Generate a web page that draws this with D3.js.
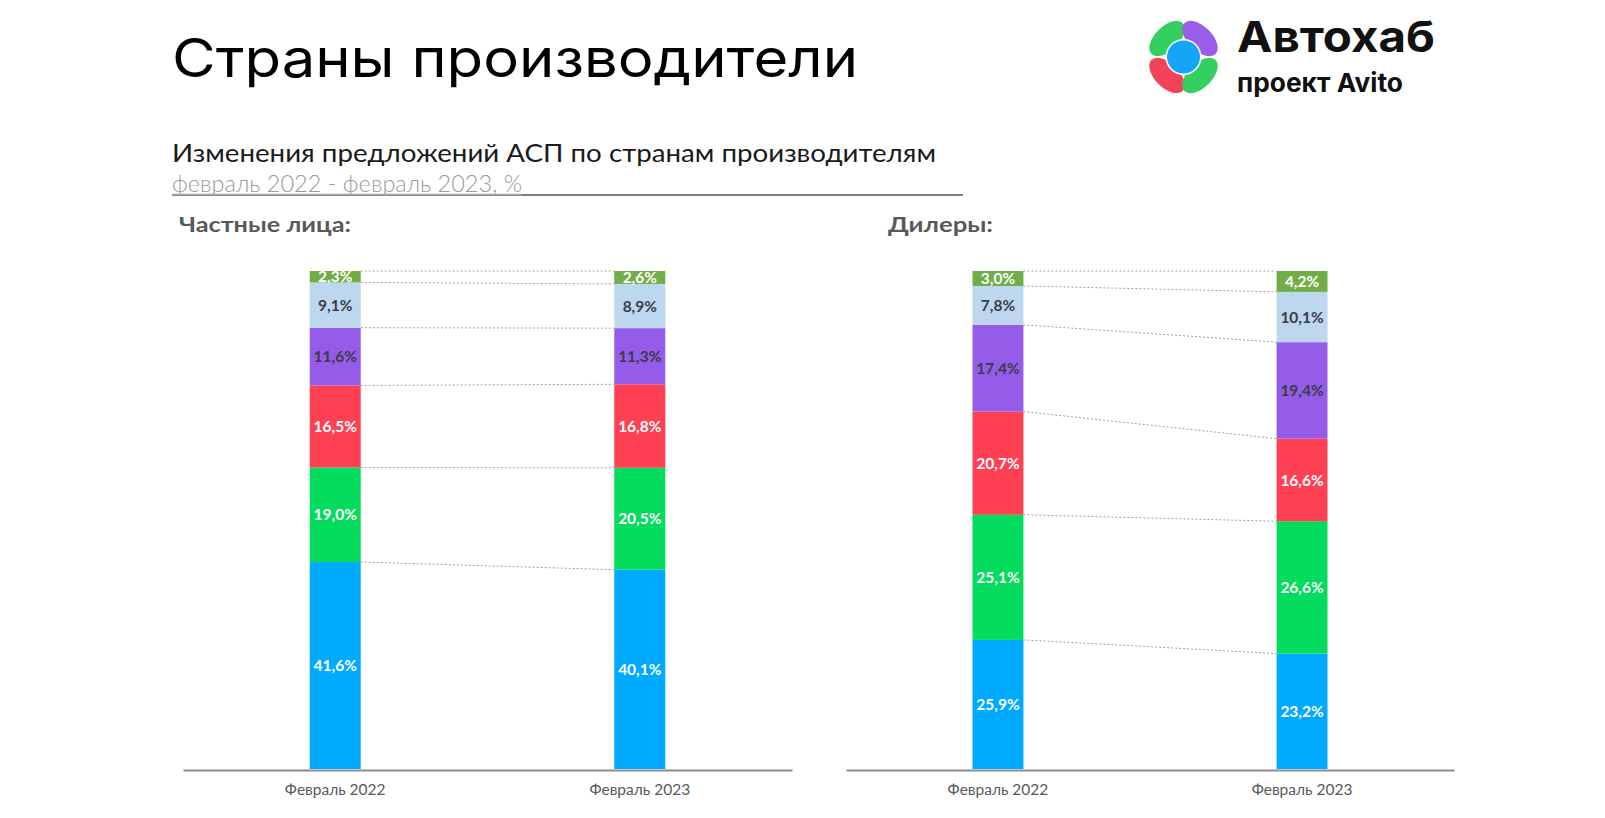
<!DOCTYPE html>
<html><head><meta charset="utf-8">
<script src="https://cdn.jsdelivr.net/npm/d3@7"></script>
<style>
html,body{margin:0;padding:0;background:#fff;}
svg{display:block;}
</style></head>
<body>
<svg id="c" width="1605" height="818"></svg>
<script>
// ---- data ----
const categories = ["Февраль 2022", "Февраль 2023"];
const seriesKeys = ["s1", "s2", "s3", "s4", "s5", "s6"]; // bottom -> top
const privateBlue   = [41.6, 40.1];
const privateGreen  = [19.0, 20.5];
const privateRed    = [16.5, 16.8];
const privatePurple = [11.6, 11.3];
const privateLight  = [9.1, 8.9];
const privateOlive  = [2.3, 2.6];
const dealerBlue   = [25.9, 23.2];
const dealerGreen  = [25.1, 26.6];
const dealerRed    = [20.7, 16.6];
const dealerPurple = [17.4, 19.4];
const dealerLight  = [7.8, 10.1];
const dealerOlive  = [3.0, 4.2];
const panelTitles = ["Частные лица:", "Дилеры:"];

const colors = ["#00AAFF", "#04DC5E", "#FF4053", "#955CEA", "#BDD7EE", "#70AD47"];
const labelColors = ["#fff", "#fff", "#fff", "#3b3b48", "#3b3b48", "#fff"];

function table(arrs){
  return categories.map((c,i)=>{
    const o = {cat:c};
    seriesKeys.forEach((k,j)=>o[k]=arrs[j][i]);
    return o;
  });
}
const privateData = table([privateBlue, privateGreen, privateRed, privatePurple, privateLight, privateOlive]);
const dealerData  = table([dealerBlue, dealerGreen, dealerRed, dealerPurple, dealerLight, dealerOlive]);

const svg = d3.select("#c");
svg.append("rect").attr("width",1605).attr("height",818).attr("fill","#fff");

function fitText(sel, w){ sel.attr("textLength", w).attr("lengthAdjust","spacingAndGlyphs"); return sel; }

// ---- headline ----
fitText(svg.append("text").attr("x",172).attr("y",76.5)
  .attr("font-family","Inter, 'Noto Sans', sans-serif").attr("font-size",53).attr("font-weight",400)
  .attr("fill","#000").text("Страны производители"), 686);

// ---- logo ----
const logo = svg.append("g");
[[1167,38.5,-45,"#34CF5F"],[1200,38.5,45,"#9B5DE8"],[1167,75.5,45,"#F2435A"],[1200,75.5,-45,"#34CF5F"]]
 .forEach(p=>{
   logo.append("ellipse").attr("cx",p[0]).attr("cy",p[1]).attr("rx",22).attr("ry",12)
     .attr("transform",`rotate(${p[2]},${p[0]},${p[1]})`).attr("fill",p[3]);
 });
logo.append("circle").attr("cx",1183.5).attr("cy",57).attr("r",18).attr("fill","#fff");
logo.append("circle").attr("cx",1183.5).attr("cy",57).attr("r",16.5).attr("fill","#14A5F6");
fitText(logo.append("text").attr("x",1237).attr("y",52)
  .attr("font-family","Inter, sans-serif").attr("font-size",43).attr("font-weight",700)
  .attr("fill","#111").text("Автохаб"), 198);
fitText(logo.append("text").attr("x",1237).attr("y",92)
  .attr("font-family","Inter, sans-serif").attr("font-size",26).attr("font-weight",700)
  .attr("fill","#111").text("проект Avito"), 166);

// ---- chart title ----
fitText(svg.append("text").attr("x",172).attr("y",162)
  .attr("font-family","Lato, sans-serif").attr("font-size",25).attr("font-weight",400)
  .attr("fill","#1a1a1a").text("Изменения предложений АСП по странам производителям"), 764);
svg.append("line").attr("x1",172).attr("x2",963).attr("y1",195).attr("y2",195)
  .attr("stroke","#555").attr("stroke-width",1.6);
fitText(svg.append("text").attr("x",172).attr("y",192)
  .attr("font-family","Lato, sans-serif").attr("font-size",23).attr("font-weight",300)
  .attr("fill","#9a9a9a").text("февраль 2022 - февраль 2023, %"), 350);
svg.append("line").attr("x1",172).attr("x2",522).attr("y1",194.5).attr("y2",194.5)
  .attr("stroke","#a6a6a6").attr("stroke-width",1.4);

// ---- panels ----
const y = d3.scaleLinear().domain([0,1]).range([769,271]);
const stack = d3.stack().keys(seriesKeys).offset(d3.stackOffsetExpand);

function panel(data, x0, x1, title, titleX, titleW){
  const g = svg.append("g");
  fitText(g.append("text").attr("x",titleX).attr("y",232)
    .attr("font-family","Lato, sans-serif").attr("font-size",21).attr("font-weight",700)
    .attr("fill","#595959").text(title), titleW);

  const x = d3.scaleBand().domain(categories).range([x0,x1]).paddingInner(0.8325).paddingOuter(0.416);
  const bw = x.bandwidth();
  const layers = stack(data);

  // connectors
  layers.forEach(L=>{
    g.append("line")
      .attr("x1", x(categories[0])+bw).attr("y1", y(L[0][1]))
      .attr("x2", x(categories[1])).attr("y2", y(L[1][1]))
      .attr("stroke","#a0a0a0").attr("stroke-width",1).attr("stroke-dasharray","2,2");
  });

  layers.forEach((L,i)=>{
    g.selectAll(null).data(L).enter().append("rect")
      .attr("x", d=>x(d.data.cat)).attr("width", bw)
      .attr("y", d=>y(d[1])).attr("height", d=>y(d[0])-y(d[1]))
      .attr("fill", colors[i]);
    g.selectAll(null).data(L).enter().append("text")
      .attr("x", d=>x(d.data.cat)+bw/2)
      .attr("y", d=>(y(d[0])+y(d[1]))/2)
      .attr("dy","0.36em").attr("text-anchor","middle")
      .attr("font-family","Lato, sans-serif").attr("font-size",15.5).attr("font-weight",700)
      .attr("fill", labelColors[i])
      .text(d=>d3.format(".1f")(d.data[L.key]).replace(".",",")+"%");
  });

  const axis = d3.axisBottom(x).tickSize(0).tickPadding(14);
  const ag = g.append("g").attr("transform","translate(0,770)").call(axis);
  ag.select(".domain").attr("stroke","#8c8c8c").attr("stroke-width",2);
  ag.selectAll("text").attr("font-family","Lato, sans-serif").attr("font-size",15.5)
    .attr("fill","#595959");
}
panel(privateData, 183, 792, panelTitles[0], 179, 172);
panel(dealerData, 846, 1454, panelTitles[1], 888, 105);
</script>
</body></html>
